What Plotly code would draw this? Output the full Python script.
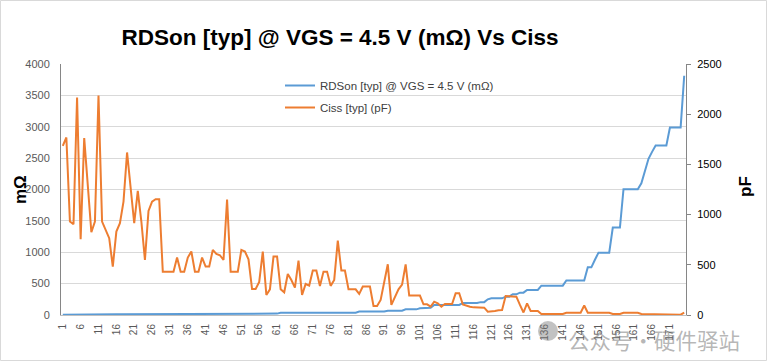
import plotly.graph_objects as go

# categories 1..175
categories = list(range(1, 176))
tick_vals = list(range(1, 172, 5))
tick_text = [str(v) for v in tick_vals]

# RDSon [typ] @ VGS = 4.5 V (mOhm) - left axis
rdson = [2, 3, 8,
         10, 10, 10, 10, 10, 10, 10, 10, 10, 10, 10, 10, 10, 10, 10, 10, 10,
         13, 13, 13, 13, 13, 13, 13, 13, 13, 13, 13, 13, 13, 13, 13, 13, 13, 13, 13, 13,
         22, 22, 22, 22, 22, 22, 22, 22, 22, 22, 22, 22, 22, 22, 22, 22, 22, 22, 22, 22, 22,
         37, 37, 37, 37, 37, 37, 37, 37, 37, 37, 37, 37, 37, 37, 37, 37, 37, 37, 37, 37, 37, 37,
         55, 55, 55, 55, 55, 55, 55, 55,
         69, 69, 69, 69, 69,
         90, 90, 90, 90,
         106, 106, 117, 117,
         160, 160, 160, 160, 160, 160, 160, 160,
         190, 190, 190, 190, 190,
         205, 205, 250, 266, 266, 266, 266, 292, 292, 330, 330, 356, 356,
         399, 399, 399, 399,
         468, 468, 468, 468, 468, 468, 468,
         550, 550, 550, 550, 550, 550,
         760, 760, 880, 994, 994, 994, 994,
         1393, 1393, 1393,
         2005, 2005, 2005, 2005, 2005,
         2100, 2313, 2489, 2600,
         2702, 2702, 2702, 2702,
         2989, 2989, 2989, 2989,
         3813]

# Ciss [typ] (pF) - right axis
ciss = [1685, 1768, 931, 904, 2167, 755, 1762, 1300, 824, 931,
        2187, 931, 848, 765, 482, 831, 914, 1130, 1619, 1230,
        914, 1236, 931, 548, 1037, 1130, 1153, 1153, 432, 432,
        432, 432, 572, 432, 432, 572, 632, 432, 432, 572,
        482, 482, 648, 608, 595, 548, 1150, 432, 432, 432,
        648, 632, 555, 259, 259, 330, 632, 199, 256, 582,
        582, 256, 226, 409, 349, 273, 542, 199, 309, 293,
        442, 442, 289, 432, 432, 290, 349, 741, 442, 442,
        256, 256, 256, 210, 283, 283, 283, 90, 90, 150,
        320, 505, 100, 175, 256, 303, 505, 193, 193, 193,
        193, 106, 106, 83, 133, 116, 83, 110, 110, 110,
        216, 216, 106, 93, 83, 76, 73, 73, 73, 33,
        33, 40, 47, 50, 189, 189, 183, 183, 100, 25,
        116, 40, 40, 40, 10, 10, 10, 10, 10, 10,
        10, 23, 23, 23, 23, 23, 95, 23, 23, 23,
        23, 23, 23, 23, 10, 10, 10, 23, 23, 23,
        23, 23, 10, 10, 3, 3, 3, 3, 3, 3,
        3, 3, 3, 3, 23]

assert len(rdson) == 175 and len(ciss) == 175

title_text = "RDSon [typ] @ VGS = 4.5 V (mΩ) Vs Ciss"
name_rdson = "RDSon [typ] @ VGS = 4.5 V (mΩ)"
name_ciss = "Ciss [typ] (pF)"

fig = go.Figure()
fig.add_trace(go.Scatter(x=categories, y=rdson, name=name_rdson, mode="lines",
                         line=dict(color="#5B9BD5", width=2), yaxis="y", legendgroup="a"))
fig.add_trace(go.Scatter(x=categories, y=ciss, name=name_ciss, mode="lines",
                         line=dict(color="#ED7D31", width=2), yaxis="y2", legendgroup="b"))

grey = "#595959"
fig.update_layout(
    width=767, height=361,
    margin=dict(l=61, r=81, t=64, b=46, autoexpand=False),
    paper_bgcolor="white", plot_bgcolor="white",
    font=dict(family="Liberation Sans, Arial, sans-serif", color=grey),
    title=dict(text="<b>" + title_text + "</b>", x=340 / 767, xref="container", xanchor="center",
               y=1 - 37 / 361, yref="container", yanchor="middle",
               font=dict(family="Liberation Sans, Arial, sans-serif", size=22.5, color="black")),
    xaxis=dict(range=[0.5, 175.5], tickmode="array", tickvals=tick_vals, ticktext=tick_text,
               tickangle=-90, tickfont=dict(size=10, color=grey), showgrid=False,
               showline=True, linecolor="#bfbfbf", linewidth=1, ticks="", zeroline=False,
               ticklabelstandoff=4, automargin=False),
    yaxis=dict(range=[0, 4000], dtick=500, showgrid=True, gridcolor="#d9d9d9", gridwidth=1,
               showline=True, linecolor="#868686", linewidth=1, ticks="", zeroline=False,
               tickfont=dict(size=11, color=grey), ticklabelstandoff=8, automargin=False),
    yaxis2=dict(range=[0, 2500], dtick=500, overlaying="y", side="right", showgrid=False,
                showline=True, linecolor="#868686", linewidth=1, ticks="outside", ticklen=4,
                tickcolor="#868686", zeroline=False, tickfont=dict(size=11, color="black"),
                ticklabelstandoff=4, automargin=False),
    legend=dict(x=(280 - 61) / 625, y=(315 - 71) / 251, xanchor="left", yanchor="top",
                bgcolor="rgba(0,0,0,0)", font=dict(size=11.5, color="#404040"),
                tracegroupgap=3, itemwidth=30),
    showlegend=True,
    annotations=[
        dict(text="<b>mΩ</b>", xref="paper", yref="paper", x=(20 - 61) / 625, y=(315 - 190) / 251,
             showarrow=False, textangle=-90, font=dict(size=17, color="black"),
             xanchor="center", yanchor="middle"),
        dict(text="<b>pF</b>", xref="paper", yref="paper", x=(745 - 61) / 625, y=(315 - 187) / 251,
             showarrow=False, textangle=-90, font=dict(size=17, color="black"),
             xanchor="center", yanchor="middle"),
        dict(text="公众号·硬件驿站", xref="paper", yref="paper", x=(567 - 61) / 625, y=(315 - 323) / 251,
             showarrow=False, xanchor="left", yanchor="top", borderpad=0,
             font=dict(family="Noto Sans CJK SC", size=21.5, color="rgba(120,120,120,0.55)")),
    ],
    shapes=[
        dict(type="rect", xref="paper", yref="paper",
             x0=(0.5 - 61) / 625, x1=(766.5 - 61) / 625,
             y0=(315 - 360.5) / 251, y1=(315 - 0.5) / 251,
             line=dict(color="#d9d9d9", width=1), fillcolor="rgba(0,0,0,0)", layer="below"),
        dict(type="circle", xref="paper", yref="paper",
             x0=(538 - 61) / 625, x1=(558 - 61) / 625,
             y0=(315 - 341) / 251, y1=(315 - 321) / 251,
             line=dict(width=0), fillcolor="rgba(120,120,120,0.45)"),
    ],
)

fig.write_html("out.html", config={"displayModeBar": False},
               post_script="document.body.style.margin='0';document.body.style.padding='0';"
                           "document.documentElement.style.overflow='hidden';")
